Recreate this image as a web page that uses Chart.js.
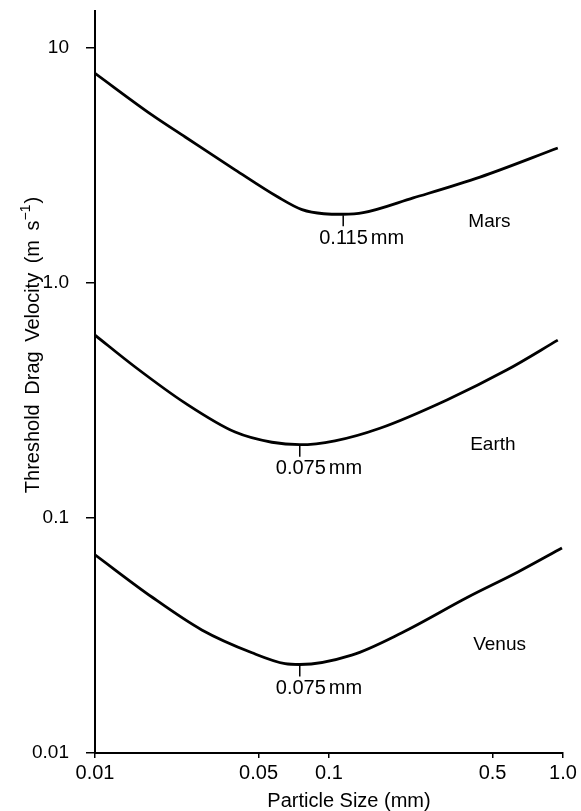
<!DOCTYPE html>
<html>
<head>
<meta charset="utf-8">
<script src="https://cdn.jsdelivr.net/npm/chart.js@4/dist/chart.umd.min.js"></script>
<style>
  html, body { margin: 0; padding: 0; background: #fff; }
  #wrap { width: 581px; height: 811px; }
</style>
</head>
<body>
<div id="wrap"><canvas id="Chart1"></canvas></div>
<script>
// particle size (mm) vs threshold drag velocity (m/s)
var marsSize = [0.01, 0.0175, 0.0243, 0.0397, 0.0605, 0.0767, 0.095, 0.115, 0.14, 0.229, 0.442, 0.95];
var marsVel  = [7.8, 5.19, 4.18, 3.03, 2.32, 2.05, 1.97, 1.96, 1.99, 2.30, 2.82, 3.75];

var earthSize = [0.01, 0.0148, 0.0243, 0.0397, 0.057, 0.075, 0.106, 0.165, 0.319, 0.577, 0.95];
var earthVel  = [0.60, 0.44, 0.308, 0.232, 0.210, 0.205, 0.213, 0.241, 0.318, 0.427, 0.571];

var venusSize = [0.01, 0.0175, 0.0286, 0.0469, 0.0649, 0.075, 0.125, 0.205, 0.393, 0.642, 0.99];
var venusVel  = [0.0697, 0.0461, 0.0334, 0.0267, 0.0240, 0.0238, 0.0261, 0.0325, 0.0461, 0.0589, 0.0745];

var xTicks = [0.01, 0.05, 0.1, 0.5, 1];
var xTickLabels = ["0.01", "0.05", "0.1", "0.5", "1.0"];
var yTicks = [0.01, 0.1, 1, 10];
var yTickLabels = ["0.01", "0.1", "1.0", "10"];

// minimum of each curve, marked with a small tick and its size
var minSize = [0.115, 0.075, 0.075];
var minVel = [1.96, 0.205, 0.0238];
var minLabels = ["0.115", "0.075", "0.075"];

var planetNames = ["Mars", "Earth", "Venus"];
var planetLabelSize = [0.394, 0.401, 0.413];
var planetLabelVel = [1.82, 0.205, 0.0288];

function pts(xs, ys) {
    return xs.map(function(v, i){ return {x: v, y: ys[i]}; });
}

var FAMILY = "'Liberation Sans', Arial, sans-serif";
Chart.defaults.font.family = FAMILY;
Chart.defaults.font.size = 19;
Chart.defaults.color = "#000";

var annotations = {
    id: 'annotations',
    afterDatasetsDraw: function(chart) {
        var ctx = chart.ctx;
        var xs = chart.scales.x, ys = chart.scales.y;
        ctx.save();
        ctx.fillStyle = "#000";
        ctx.strokeStyle = "#000";
        ctx.lineWidth = 1.5;
        ctx.textBaseline = "middle";
        ctx.textAlign = "left";

        for (var i = 0; i < minSize.length; i++) {
            var px = xs.getPixelForValue(minSize[i]);
            var py = ys.getPixelForValue(minVel[i]);
            ctx.beginPath();
            ctx.moveTo(px, py + 1);
            ctx.lineTo(px, py + 12);
            ctx.stroke();
            ctx.font = "20px " + FAMILY;
            var w = ctx.measureText(minLabels[i]).width;
            ctx.fillText(minLabels[i], px - 24, py + 24);
            ctx.fillText("mm", px - 24 + w + 3, py + 24);
        }

        ctx.font = "19px " + FAMILY;
        for (var j = 0; j < planetNames.length; j++) {
            ctx.fillText(planetNames[j], xs.getPixelForValue(planetLabelSize[j]), ys.getPixelForValue(planetLabelVel[j]));
        }

        // axis titles
        ctx.font = "20px " + FAMILY;
        ctx.textAlign = "center";
        ctx.fillText("Particle Size (mm)", 349, 801);

        ctx.translate(33, 345);
        ctx.rotate(-Math.PI / 2);
        ctx.wordSpacing = "4px";
        var main = "Threshold Drag Velocity (m s";
        var sup = "\u22121";
        var tail = ")";
        var wMain = ctx.measureText(main).width;
        ctx.font = "14px " + FAMILY;
        var wSup = ctx.measureText(sup).width;
        ctx.font = "20px " + FAMILY;
        var wTail = ctx.measureText(tail).width;
        var x0 = -(wMain + wSup + wTail + 1) / 2;
        ctx.textAlign = "left";
        ctx.fillText(main, x0, 0);
        ctx.font = "14px " + FAMILY;
        ctx.fillText(sup, x0 + wMain, -7);
        ctx.font = "20px " + FAMILY;
        ctx.fillText(tail, x0 + wMain + wSup + 1, 0);
        ctx.restore();
    }
};

var lineStyle = {
    borderColor: "#000",
    borderWidth: 2.8,
    pointRadius: 0,
    showLine: true,
    fill: false,
    cubicInterpolationMode: 'monotone'
};

var ctxL = document.getElementById("Chart1").getContext('2d');
var myChart = new Chart(ctxL, {
    type: 'scatter',
    data: {
        datasets: [
            Object.assign({label: "Mars", data: pts(marsSize, marsVel)}, lineStyle),
            Object.assign({label: "Earth", data: pts(earthSize, earthVel)}, lineStyle),
            Object.assign({label: "Venus", data: pts(venusSize, venusVel)}, lineStyle)
        ]
    },
    options: {
        responsive: true,
        maintainAspectRatio: false,
        animation: false,
        layout: { padding: { top: 11, right: 18, left: 0, bottom: 0 } },
        plugins: {
            legend: { display: false },
            tooltip: { enabled: false }
        },
        scales: {
            x: {
                type: 'logarithmic',
                min: 0.01,
                max: 1,
                afterFit: function(s){ s.height = 58; s.paddingLeft = 0; s.paddingRight = 0; },
                afterBuildTicks: function(s){ s.ticks = xTicks.map(function(v){ return {value: v}; }); },
                ticks: {
                    padding: 3,
                    maxRotation: 0,
                    autoSkip: false,
                    font: { size: 20 },
                    callback: function(v, i){ return xTickLabels[i]; }
                },
                grid: { drawOnChartArea: false, drawTicks: true, tickLength: 5, color: "#000", lineWidth: 1.5 },
                border: { display: true, color: "#000", width: 2 }
            },
            y: {
                type: 'logarithmic',
                min: 0.01,
                max: 14.36,
                afterFit: function(s){ s.width = 95; s.paddingTop = 0; s.paddingBottom = 0; },
                afterBuildTicks: function(s){ s.ticks = yTicks.map(function(v){ return {value: v}; }); },
                ticks: {
                    padding: 17,
                    autoSkip: false,
                    font: { size: 19 },
                    callback: function(v, i){ return yTickLabels[i]; }
                },
                grid: { drawOnChartArea: false, drawTicks: true, tickLength: 9, color: "#000", lineWidth: 1.5 },
                border: { display: true, color: "#000", width: 2 }
            }
        }
    },
    plugins: [annotations]
});
</script>
</body>
</html>
